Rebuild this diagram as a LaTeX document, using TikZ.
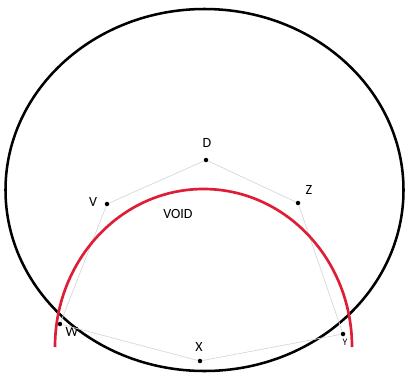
\documentclass[tikz,border=0pt]{standalone}
\usepackage{fontspec}
\setmainfont{Carlito}
\usepackage{xcolor}
\usetikzlibrary{positioning,calc}

\definecolor{voidred}{RGB}{222,30,55}
\definecolor{edgegray}{RGB}{212,216,218}

\begin{document}
\begin{tikzpicture}[
    x=0.025cm, y=-0.025cm,
    site/.style={circle, fill=black, inner sep=0pt, minimum size=3.2pt},
    sitelabel/.style={font=\normalsize, inner sep=1pt},
    edge/.style={draw=edgegray, line width=0.5pt},
    outer/.style={draw=black, line width=1.8pt},
    voidarc/.style={draw=voidred, line width=1.9pt}
]
\useasboundingbox (0,0) rectangle (408,376);

% Outer boundary
\draw[outer] (204.5,190) ellipse (199 and 181);

% Sites
\node[site] (D) at (206,160) {};
\node[site] (V) at (107,204) {};
\node[site] (Z) at (298,203) {};
\node[site] (W) at (60,324) {};
\node[site] (X) at (200,361) {};
\node[site] (Y) at (343,334) {};

% Labels
\node[sitelabel] (Dlab) at (207,143) {D};
\node[sitelabel] (Vlab) at (93,202) {V};
\node[sitelabel] (Zlab) at (309,190) {Z};
\node[sitelabel] (Wlab) at (72,332) {W};
\node[sitelabel] (Xlab) at (199,347) {X};
\node[sitelabel, font=\scriptsize] (Ylab) at (345,342) {Y};
\node[sitelabel] (voidlab) at (178,214) {VOID};

% Polygon
\draw[edge] (W) -- (V) -- (D) -- (Z) -- (Y) -- (X) -- (W);

% Void circle
\draw[voidarc] (55,347) arc[start angle=180, end angle=0, x radius=148.5, y radius=-158];

\end{tikzpicture}
\end{document}
